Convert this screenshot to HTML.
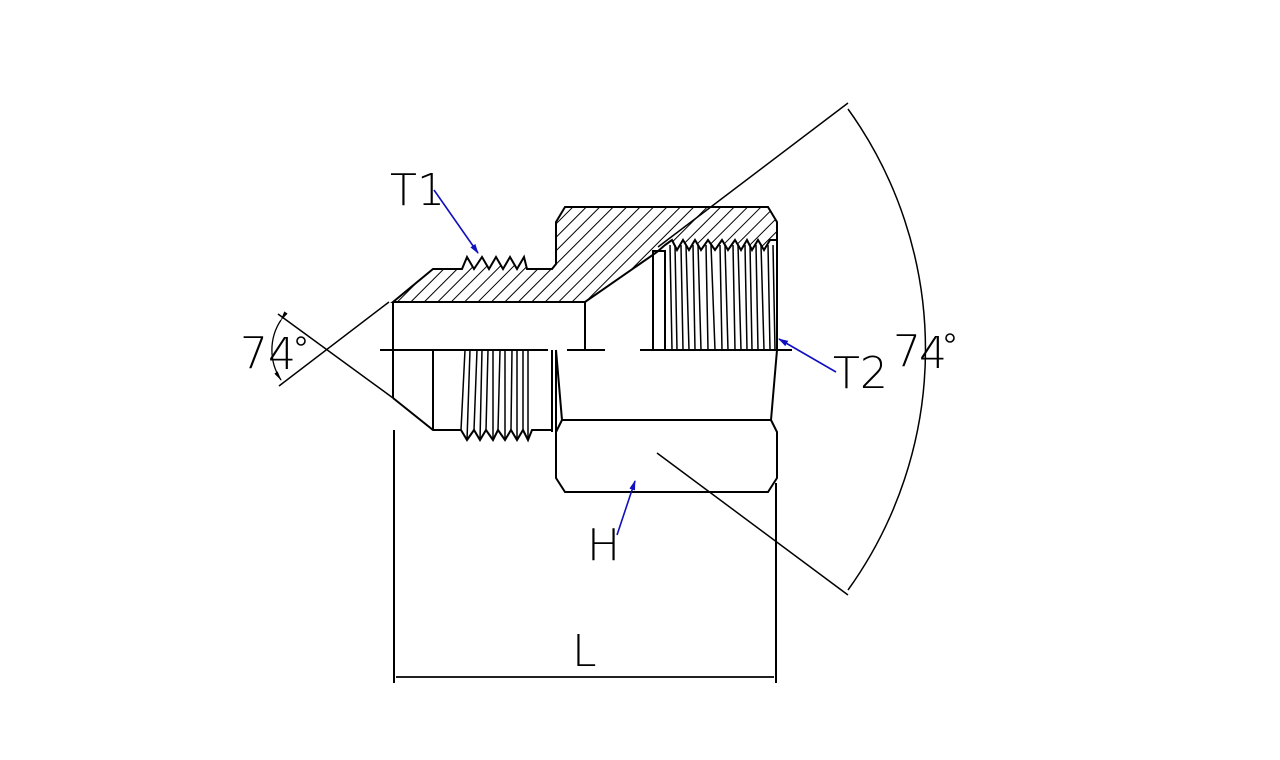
<!DOCTYPE html>
<html><head><meta charset="utf-8"><style>
html,body{margin:0;padding:0;background:#fff;}
svg{display:block;}
text{font-family:"DejaVu Sans","Liberation Sans",sans-serif;font-weight:200;fill:#000;}
</style></head><body>
<svg width="1280" height="760" viewBox="0 0 1280 760" xmlns="http://www.w3.org/2000/svg">
<defs>
<pattern id="h" patternUnits="userSpaceOnUse" width="9.5" height="9.5" patternTransform="rotate(45)">
<line x1="0" y1="0" x2="0" y2="9.5" stroke="#000" stroke-width="2"/>
</pattern>
<marker id="ab" markerWidth="10" markerHeight="8" refX="9" refY="4" orient="auto" markerUnits="userSpaceOnUse">
<path d="M0,1 L10,4 L0,7 Z" fill="#1010c0"/></marker>
<marker id="ak" markerWidth="10" markerHeight="6" refX="9" refY="3" orient="auto" markerUnits="userSpaceOnUse">
<path d="M0,1 L10,3 L0,5 Z" fill="#000"/></marker>
</defs>
<g stroke="#000" stroke-width="2" fill="none" stroke-linejoin="miter">
<path fill="url(#h)" d="M393,302 L433,269 L462,269 L467,257 L474,269 L482,257 L489,269 L496,257 L503,269 L510,257 L517,269 L524,257 L527,269 L552,269 L556,264 L556,222 L565,207 L768,207 L777,222 L777,240 L770,240 L764,250 L758,240 L752,250 L747,240 L741,250 L735,240 L728,250 L722,240 L715,250 L708,240 L701,250 L695,240 L689,250 L683,240 L677,250 L672,240 L665,245 L657,252 L585,302 Z"/>
<line x1="393" y1="302" x2="393" y2="398"/>
<line x1="585" y1="302" x2="585" y2="350"/>
<path d="M393,398 L433,430 L461,430"/>
<line x1="433" y1="350" x2="433" y2="430"/>
<path d="M461,430 L467,440 L474,430 L480,440 L486,430 L493,440 L498,430 L505,440 L511,430 L517,440 L523,430 L528,440 L532,430 L551,430"/>
<g stroke-width="1.5">
<line x1="465" y1="350" x2="461" y2="430"/><line x1="470" y1="350" x2="467" y2="440"/>
<line x1="477" y1="350" x2="474" y2="430"/><line x1="482" y1="350" x2="480" y2="440"/>
<line x1="488" y1="350" x2="486" y2="430"/><line x1="493" y1="350" x2="493" y2="440"/>
<line x1="500" y1="350" x2="498" y2="430"/><line x1="505" y1="350" x2="505" y2="440"/>
<line x1="512" y1="350" x2="511" y2="430"/><line x1="517" y1="350" x2="517" y2="440"/>
<line x1="523" y1="350" x2="523" y2="430"/><line x1="528" y1="350" x2="528" y2="440"/>
</g>
<line x1="552" y1="350" x2="552" y2="432"/>
<line x1="556" y1="350" x2="556" y2="432"/>
<path d="M556,350 L562,420 L556,432 L556,478 L565,492 L768,492 L777,478 L777,432 L771,420 L777,350"/>
<line x1="562" y1="420" x2="771" y2="420"/>
<line x1="777" y1="240" x2="777" y2="350"/>
<path d="M653,350 L653,251 L665,251 L665,350"/>
<g stroke-width="1.5">
<line x1="670" y1="245" x2="672" y2="350"/><line x1="675" y1="245" x2="677" y2="350"/>
<line x1="681" y1="245" x2="683" y2="350"/><line x1="686" y1="245" x2="689" y2="350"/>
<line x1="693" y1="245" x2="695" y2="350"/><line x1="698" y1="245" x2="701" y2="350"/>
<line x1="706" y1="245" x2="708" y2="350"/><line x1="711" y1="245" x2="715" y2="350"/>
<line x1="720" y1="245" x2="722" y2="350"/><line x1="725" y1="245" x2="728" y2="350"/>
<line x1="733" y1="245" x2="735" y2="350"/><line x1="738" y1="245" x2="741" y2="350"/>
<line x1="745" y1="245" x2="747" y2="350"/><line x1="750" y1="245" x2="752" y2="350"/>
<line x1="756" y1="245" x2="758" y2="350"/><line x1="761" y1="245" x2="764" y2="350"/>
<line x1="768" y1="245" x2="770" y2="350"/><line x1="773" y1="245" x2="775" y2="350"/>
</g>
<line x1="380" y1="350" x2="548" y2="350"/>
<line x1="567" y1="350" x2="605" y2="350"/>
<line x1="640" y1="350" x2="792" y2="350"/>
<line x1="278" y1="314" x2="393" y2="398" stroke-width="1.5"/>
<line x1="279" y1="386" x2="389" y2="302" stroke-width="1.5"/>
<path d="M281,320 A54,54 0 0 0 281,380" stroke-width="1.3" marker-start="url(#ak)" marker-end="url(#ak)"/>
<line x1="848" y1="103" x2="658" y2="247" stroke-width="1.5"/>
<line x1="657" y1="453" x2="848" y2="595" stroke-width="1.5"/>
<path d="M848,109 A412,412 0 0 1 848,590" stroke-width="1.5"/>
<line x1="394" y1="430" x2="394" y2="683"/>
<line x1="776" y1="483" x2="776" y2="683"/>
<line x1="396" y1="677" x2="774" y2="677" stroke-width="1.8"/>
</g>
<g stroke="#1010c0" stroke-width="1.6" fill="none">
<line x1="434" y1="190" x2="478" y2="253" marker-end="url(#ab)"/>
<line x1="836" y1="372" x2="779" y2="339" marker-end="url(#ab)"/>
<line x1="617" y1="535" x2="635" y2="481" marker-end="url(#ab)"/>
</g>
<text x="390" y="205" font-size="44">T</text>
<text x="417" y="205" font-size="44">1</text>
<text x="833" y="388" font-size="44">T2</text>
<text x="893" y="366" font-size="44">7</text>
<text x="919" y="368" font-size="44">4</text>
<circle cx="950" cy="338" r="4" fill="none" stroke="#000" stroke-width="1.6"/>
<text x="240" y="368" font-size="44">7</text>
<text x="268" y="369" font-size="44">4</text>
<circle cx="301" cy="341" r="4" fill="none" stroke="#000" stroke-width="1.6"/>
<text x="587" y="560" font-size="44">H</text>
<text x="572" y="666" font-size="44">L</text>
</svg>
</body></html>
